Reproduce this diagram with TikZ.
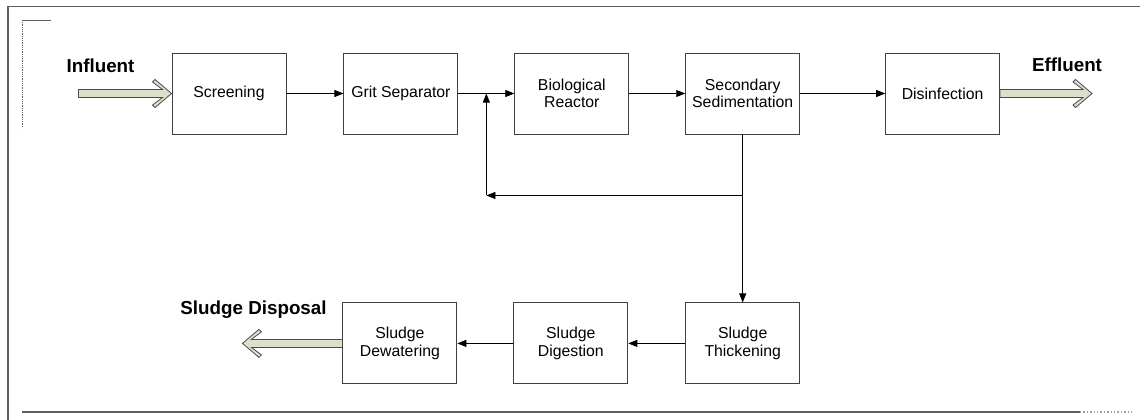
\documentclass[tikz,border=0pt]{standalone}
\usepackage{fontspec}
\setmainfont{Liberation Sans}
\usetikzlibrary{positioning,calc,arrows.meta}
\definecolor{pipefill}{RGB}{220,223,203}
\definecolor{framegray}{RGB}{96,96,96}
\tikzset{pics/fatarrow/.style={code={
	\filldraw[fill=pipefill,draw=black!70,line width=0.8pt,line join=miter]
		(-#1,-4) -- (-9,-4) -- (-19,-11.5) -- (-16.5,-14) -- (0,0)
		-- (-16.5,14) -- (-19,11.5) -- (-9,4) -- (-#1,4) -- cycle;
}}}
\begin{document}
\begin{tikzpicture}[x=1pt,y=-1pt,
	stage/.style = {draw=black!75, line width=0.9pt, fill=white, minimum width=114pt, minimum height=81pt,
		align=center, font=\fontsize{15.8}{17.7}\selectfont},
	flow/.style = {-{Triangle[length=9pt,width=7pt]}, line width=0.7pt},
	tag/.style = {font=\fontsize{18.8}{22}\selectfont\bfseries, anchor=base}]
	\useasboundingbox (0,0) rectangle (1140,420);
	% frame
	\draw[framegray, line width=1.2pt] (8,420) -- (8,6.5) -- (1140,6.5);
	\draw[framegray, line width=1.4pt] (22,412) -- (1080,412);
	\draw[framegray!60, line width=1.4pt, dotted] (1080,412) -- (1134,412);
	\draw[framegray, line width=0.8pt] (22,20) -- (51,20);
	\draw[framegray, line width=0.8pt, densely dotted] (22,20) -- (22,128);
	% main line
	\node[stage] (screen) at (229,93.5) {Screening};
	\node[stage] (grit) [right=57pt of screen] {Grit Separator};
	\node[stage] (bio) [right=56pt of grit] {Biological\\Reactor};
	\node[stage] (secsed) [right=56pt of bio] {Secondary\\Sedimentation};
	\node[stage] (disinf) [right=85pt of secsed] {Disinfection};
	% sludge line
	\node[stage] (thicken) [below=168pt of secsed] {Sludge\\Thickening};
	\node[stage] (digest) [left=57pt of thicken] {Sludge\\Digestion};
	\node[stage] (dewater) [left=56pt of digest] {Sludge\\Dewatering};
	\coordinate (join) at ($(grit.east)!0.5!(bio.west)$);
	\coordinate (branch) at ($(secsed.south)+(0,61)$);
	\coordinate (turn) at (join |- branch);
	\draw[flow] (screen) -- (grit);
	\draw[flow] (grit) -- (bio);
	\draw[flow] (bio) -- (secsed);
	\draw[flow] (secsed) -- (disinf);
	\draw[flow] (secsed) -- (thicken);
	\draw[flow] (branch) -- (turn);
	\draw[flow] (turn) -- (join);
	\draw[flow] (thicken) -- (digest);
	\draw[flow] (digest) -- (dewater);
	% in and out
	\pic at (screen.west) {fatarrow=93};
	\pic at ($(disinf.east)+(92,0)$) {fatarrow=92};
	\pic[rotate=180] at ($(dewater.west)+(-100,0)$) {fatarrow=100};
	\node[tag] (influent) at (100.5,72.7) {Influent};
	\node[tag] (effluent) at (1067,71.7) {Effluent};
	\node[tag] (disposal) at (253.5,314) {Sludge Disposal};
\end{tikzpicture}
\end{document}
